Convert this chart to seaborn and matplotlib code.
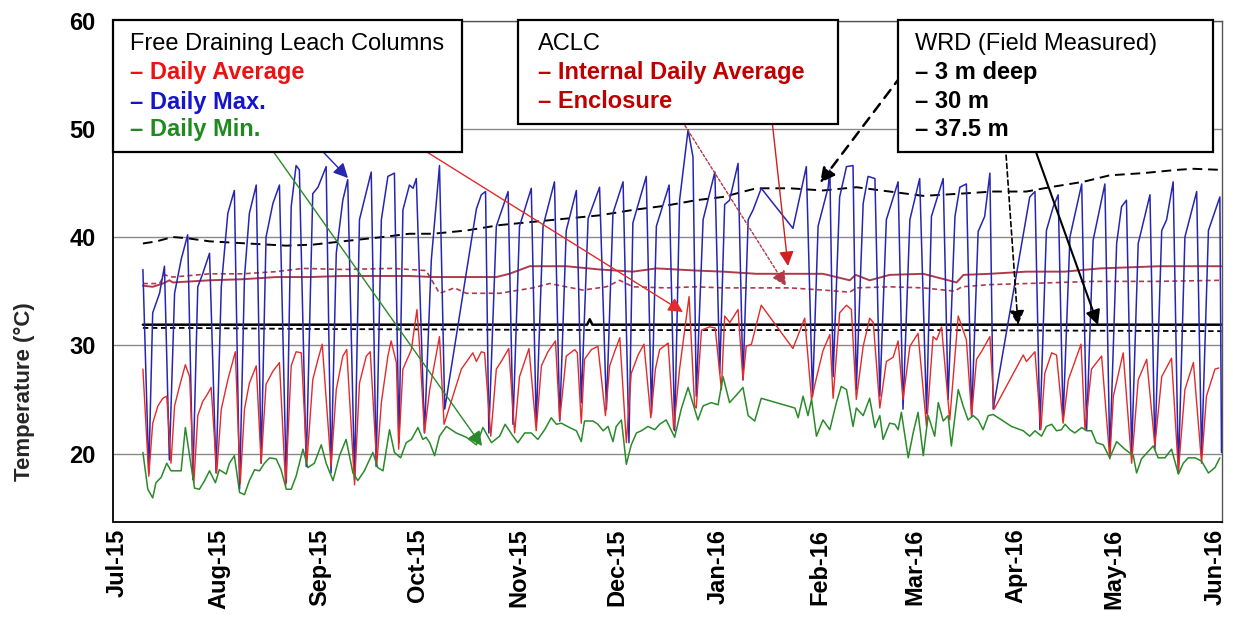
import numpy as np
import pandas as pd
import matplotlib
matplotlib.use('Agg')
import matplotlib.pyplot as plt
from matplotlib.patches import Rectangle
import seaborn as sns

START = '2015-07-01'

# Free draining leach columns - daily max (day offset from START, degC)
max_day = [7.8, 9.6, 10.8, 12.9, 14.4, 15.9, 17.5, 19.5, 21.5, 23.1, 24.6, 26.1, 28.2, 30.2, 31.8, 33.8, 35.8, 37.4,
           38.9, 40.4, 42.5, 44.0, 45.5, 47.6, 49.6, 51.7, 53.2, 54.7, 55.7, 57.8, 59.8, 61.4, 63.9, 65.4, 67.0, 69.0,
           70.5, 72.6, 74.1, 77.7, 79.2, 80.8, 82.8, 84.8, 86.2, 87.4, 89.4, 90.5, 91.5, 94.0, 96.1, 98.6, 100.2,
           109.9, 111.4, 112.7, 113.7, 116.0, 119.6, 121.1, 123.1, 126.7, 128.2, 130.3, 133.8, 135.4, 137.4, 140.5,
           142.0, 144.1, 147.6, 149.7, 151.7, 154.8, 156.6, 157.8, 161.9, 163.5, 165.0, 168.9, 170.6, 172.1, 174.7,
           176.2, 177.2, 179.3, 182.9, 184.4, 185.9, 187.4, 190.0, 191.5, 193.1, 194.6, 197.1, 206.8, 210.9, 212.8,
           214.5, 217.6, 218.1, 219.1, 221.1, 223.2, 225.2, 226.2, 228.3, 229.8, 231.9, 233.4, 235.4, 239.0, 240.5,
           242.6, 245.6, 247.7, 249.2, 252.8, 254.3, 256.4, 257.9, 259.9, 261.5, 263.5, 265.5, 267.1, 268.1, 279.3,
           280.9, 282.4, 284.4, 286.5, 288.0, 289.5, 291.6, 295.2, 296.7, 298.7, 302.3, 303.8, 305.9, 307.4, 308.9,
           310.5, 312.5, 316.1, 317.6, 319.7, 321.2, 323.2, 324.8, 326.8, 330.4, 331.9, 334.0, 337.5, 338.0]
max_val = [37.0, 18.2, 33.0, 34.8, 37.3, 19.4, 34.8, 37.9, 40.2, 17.6, 35.4, 36.6, 38.5, 18.2, 35.4, 42.2, 44.3, 16.7,
           36.3, 42.2, 44.8, 19.1, 40.0, 43.1, 44.8, 17.3, 42.8, 46.6, 46.2, 18.8, 44.0, 44.6, 46.5, 18.2, 38.5, 43.4,
           45.3, 17.6, 41.6, 46.0, 18.8, 41.6, 45.6, 45.9, 21.0, 42.5, 44.8, 44.5, 45.4, 21.9, 37.9, 46.6, 24.1,
           42.6, 43.9, 44.2, 21.9, 41.0, 44.2, 22.7, 41.0, 44.5, 22.7, 41.0, 45.1, 23.0, 40.6, 44.3,
           24.7, 41.7, 44.6, 24.1, 42.2, 45.1, 21.0, 41.3, 45.6, 23.7, 41.0, 44.8, 22.1, 43.4, 49.9,
           47.4, 25.3, 41.6, 46.0, 27.4, 43.0, 43.4, 46.8, 26.8, 41.6, 42.5, 44.5, 40.8, 46.5, 25.3,
           41.0, 44.6, 46.2, 27.1, 43.7, 46.5, 46.6, 25.9, 43.1, 45.6, 45.4, 25.3, 41.6, 45.1, 24.1,
           41.6, 45.4, 23.7, 41.9, 45.4, 25.0, 41.9, 44.6, 44.9, 23.4, 40.5, 41.9, 45.9, 24.1, 43.7,
           44.2, 22.2, 40.6, 42.8, 43.9, 23.1, 40.0, 44.9, 22.2, 39.7, 44.9, 19.8, 39.4, 42.8, 43.4,
           20.1, 39.4, 43.9, 20.4, 40.6, 41.6, 45.1, 18.2, 40.0, 44.2, 19.8, 40.6, 43.7, 20.1]

# Free draining leach columns - daily average
avg_day = [7.8, 9.6, 10.8, 12.4, 13.9, 15.1, 16.4, 17.5, 19.0, 20.8, 22.1, 23.4, 24.6, 26.1, 27.2, 28.7, 30.4, 31.8,
           33.8, 36.1, 37.6, 38.9, 40.4, 42.5, 44.0, 45.5, 47.6, 49.6, 51.5, 53.2, 54.7, 56.3, 58.0, 59.8, 61.4, 62.7,
           65.4, 67.0, 69.0, 70.2, 72.6, 74.1, 76.2, 77.4, 79.4, 80.8, 82.8, 83.8, 85.4, 86.1, 87.4, 90.0, 91.7, 92.5,
           94.0, 95.6, 98.6, 100.0, 105.3, 108.8, 109.9, 111.4, 112.4, 114.3, 116.0, 117.5, 119.8, 121.6, 123.1,
           126.0, 128.2, 129.8, 131.8, 134.1, 135.4, 137.4, 140.0, 140.8, 142.0, 143.0, 145.1, 147.1, 149.4, 150.7,
           152.2, 153.8, 155.8, 157.3, 159.4, 161.2, 163.3, 164.7, 166.0, 168.6, 170.3, 172.1, 175.0, 176.7, 177.2,
           178.8, 181.3, 183.0, 184.9, 185.9, 187.5, 190.0, 191.5, 192.5, 194.1, 197.1, 206.8, 210.4, 212.5, 214.0,
           216.0, 218.1, 219.1, 221.1, 223.2, 224.7, 226.2, 228.3, 230.3, 231.4, 233.4, 235.4, 237.5, 239.0, 240.5,
           242.6, 245.1, 247.7, 249.7, 250.8, 252.3, 254.8, 257.4, 259.9, 261.5, 263.0, 264.5, 267.1, 268.4, 277.3,
           278.3, 280.9, 282.7, 283.9, 286.0, 287.5, 289.5, 291.1, 295.0, 296.2, 298.2, 301.3, 303.8, 304.9, 307.9,
           310.5, 312.5, 315.1, 317.6, 319.7, 322.7, 324.8, 326.8, 329.4, 331.9, 333.4, 336.0, 337.2]
avg_val = [27.8, 17.9, 22.8, 24.4, 25.1, 25.3, 19.1, 24.4, 26.2, 28.2, 27.1, 17.3, 23.5, 24.8, 25.3, 26.1, 18.2, 24.1,
           26.8, 29.4, 17.2, 24.1, 26.5, 28.1, 19.1, 26.4, 27.6, 28.4, 17.0, 28.1, 29.4, 29.3, 19.1, 26.8, 28.7, 30.1,
           18.8, 25.9, 29.0, 29.6, 17.1, 26.5, 29.0, 29.4, 19.0, 24.7, 29.0, 30.4, 28.4, 20.4, 27.8, 29.6, 33.3, 29.9,
           21.9, 25.9, 30.8, 22.7, 27.8, 29.3, 28.5, 29.4, 29.3, 21.6, 27.8, 28.5, 29.7, 21.9, 27.1,
           29.7, 22.1, 28.1, 29.4, 30.4, 23.1, 29.0, 29.6, 29.3, 22.8, 28.7, 29.6, 29.9, 23.5, 28.1,
           29.4, 30.7, 21.0, 27.4, 29.1, 30.1, 23.3, 27.8, 29.6, 30.2, 22.2, 27.8, 34.5, 24.4, 24.2,
           31.4, 31.7, 31.6, 25.9, 32.7, 32.1, 33.3, 26.8, 29.9, 30.1, 33.7, 29.7, 32.5, 25.0, 27.0,
           29.5, 31.0, 25.1, 33.0, 33.7, 33.3, 25.0, 29.9, 32.5, 32.1, 24.2, 28.5, 28.9, 30.4, 25.0,
           29.9, 31.1, 22.5, 30.8, 30.5, 31.7, 23.1, 32.7, 30.5, 23.5, 28.7, 29.4, 30.8, 24.1, 29.1,
           28.5, 29.4, 22.2, 27.4, 29.3, 29.1, 22.8, 26.8, 30.1, 22.2, 27.8, 29.0, 19.5, 25.3, 29.3,
           19.1, 26.8, 28.7, 20.7, 27.1, 28.8, 18.4, 25.9, 28.4, 19.1, 25.3, 27.8, 27.9]

# Free draining leach columns - daily min
min_day = [7.8, 9.3, 10.8, 11.8, 13.4, 15.1, 16.4, 18.0, 19.5, 20.8, 22.1, 23.6, 25.1, 26.7, 28.2, 30.0, 31.2, 33.3,
           34.3, 35.8, 37.4, 38.9, 40.4, 42.0, 43.5, 45.0, 46.6, 48.6, 50.1, 51.7, 53.2, 54.7, 56.8, 58.3, 60.3, 62.4,
           63.9, 66.0, 68.0, 70.0, 72.1, 73.6, 75.6, 78.2, 79.7, 81.3, 83.3, 84.8, 86.7, 88.4, 90.0, 92.0, 93.5, 94.5,
           95.6, 97.1, 98.6, 100.7, 103.7, 106.8, 109.9, 111.9, 114.5, 117.0, 118.7, 121.1, 122.6, 124.7, 126.7,
           128.7, 130.8, 132.8, 134.4, 135.9, 138.4, 140.5, 142.0, 143.0, 145.6, 147.1, 148.7, 150.2, 151.7, 152.7,
           154.3, 155.8, 157.3, 158.9, 160.4, 162.4, 164.5, 166.0, 168.0, 170.6, 172.6, 174.7, 176.7, 177.7, 179.3,
           181.8, 183.9, 185.4, 187.4, 189.5, 191.5, 193.1, 195.1, 197.1, 207.4, 208.4, 209.9, 211.4, 212.5, 214.0,
           216.0, 218.1, 220.1, 221.6, 223.2, 225.2, 226.2, 228.3, 230.3, 231.9, 233.4, 234.4, 236.4, 238.0, 239.0,
           240.0, 242.1, 243.6, 245.1, 246.7, 248.2, 250.2, 251.3, 252.8, 254.3, 255.3, 257.4, 258.9, 260.4, 262.0,
           263.5, 265.0, 266.6, 268.1, 270.7, 273.7, 277.3, 279.3, 280.9, 282.9, 284.4, 286.0, 287.5, 289.0, 290.1,
           291.6, 293.1, 295.2, 296.7, 298.2, 299.7, 301.8, 303.8, 305.9, 308.4, 311.0, 312.0, 313.5, 315.6, 317.1,
           318.6, 320.7, 322.7, 324.8, 326.3, 327.8, 329.9, 331.9, 334.0, 336.0, 337.5]
min_val = [20.1, 16.7, 15.9, 17.3, 17.8, 19.1, 18.4, 18.4, 18.4, 22.4, 19.8, 16.8, 16.7, 17.5, 18.4, 17.3, 18.5, 18.1,
           19.1, 19.8, 16.4, 16.2, 17.5, 18.5, 18.4, 19.1, 19.6, 19.5, 18.5, 16.7, 16.7, 17.9, 20.4, 18.7, 19.1, 20.8,
           19.1, 17.5, 19.8, 21.3, 18.2, 17.5, 18.4, 20.1, 18.7, 18.4, 22.2, 20.1, 19.6, 21.0, 21.3, 22.4, 21.3, 21.5,
           21.0, 19.8, 21.6, 22.5, 21.9, 21.5, 20.8, 22.4, 21.0, 21.6, 22.7, 21.6, 21.0, 21.9, 21.9,
           21.3, 22.2, 23.3, 22.7, 22.8, 22.4, 22.1, 21.1, 23.0, 23.0, 22.7, 22.1, 22.5, 21.1, 22.5,
           23.1, 19.0, 20.8, 21.9, 22.1, 22.5, 22.2, 22.7, 23.1, 21.5, 24.1, 26.1, 24.1, 23.1, 24.4,
           24.7, 24.5, 27.1, 24.7, 25.4, 26.1, 23.5, 23.0, 25.1, 24.2, 23.3, 25.3, 23.5, 25.0, 21.6,
           23.1, 22.2, 24.7, 26.2, 25.9, 22.5, 24.2, 23.5, 25.1, 22.4, 23.5, 21.3, 22.8, 22.7, 22.2,
           23.8, 19.6, 21.9, 23.8, 19.8, 23.5, 21.6, 24.7, 23.0, 23.5, 20.7, 25.9, 24.4, 23.1, 23.5,
           23.1, 22.2, 23.5, 23.6, 23.1, 22.5, 22.1, 21.6, 22.1, 21.6, 22.5, 22.7, 22.1, 22.2, 22.7,
           22.2, 21.9, 22.4, 22.1, 22.1, 21.0, 20.8, 19.6, 21.1, 20.4, 19.8, 18.2, 19.5, 20.2, 20.7,
           19.6, 19.6, 20.4, 18.1, 19.1, 19.6, 19.6, 19.3, 18.2, 18.7, 19.6]

# ACLC - internal daily average
int_day = [7.8, 10.8, 13.9, 15.9, 17.0, 28.2, 38.4, 48.6, 58.8, 69.0, 79.2, 89.4, 96.6, 105.0, 116.0, 120.0, 126.2,
           137.4, 147.6, 157.8, 165.0, 177.2, 185.4, 195.6, 205.8, 216.0, 224.2, 226.0, 230.3, 236.4, 246.7, 256.9,
           259.0, 267.1, 278.3, 290.0, 300.8, 319.1, 338.0]
int_val = [35.5, 35.4, 35.7, 36.0, 35.8, 36.0, 36.1, 36.3, 36.3, 36.4, 36.4, 36.4, 36.3, 36.3, 36.3, 36.6, 37.3,
           37.3, 37.0, 36.8, 37.1, 36.9, 36.8, 36.6, 36.6, 36.6, 36.0, 36.5, 36.0, 36.5, 36.6, 35.8,
           36.5, 36.6, 36.8, 36.8, 37.1, 37.3, 37.3]

# ACLC - enclosure
enc_day = [7.8, 12.9, 14.4, 17.0, 28.2, 38.4, 48.6, 56.8, 69.0, 84.3, 94.5, 98.6, 103.2, 106.8, 117.0, 127.2, 132.3,
           137.4, 142.5, 149.7, 153.8, 157.8, 168.0, 177.2, 185.4, 195.6, 205.8, 216.0, 224.2, 226.2, 236.4, 246.7,
           256.3, 258.5, 267.1, 278.3, 298.7, 318.0, 338.0]
enc_val = [35.7, 35.7, 36.5, 36.3, 36.6, 36.6, 36.8, 37.1, 37.0, 37.1, 36.9, 34.8, 35.3, 34.8, 34.8, 35.3, 35.7,
           35.4, 35.1, 35.4, 36.0, 35.4, 35.3, 35.4, 35.3, 35.3, 35.3, 35.1, 34.9, 35.3, 35.4, 35.3,
           35.0, 35.4, 35.6, 35.7, 35.9, 35.9, 36.0]

# WRD field measured
wrd3_day = [7.8, 12.0, 16.9, 21.0, 28.2, 40.0, 51.7, 60.0, 69.0, 81.3, 89.4, 96.6, 106.8, 117.0, 127.2, 137.4, 147.6,
            157.8, 168.0, 177.2, 185.4, 195.6, 205.8, 216.0, 226.2, 236.4, 246.7, 257.9, 268.1, 278.3, 285.5, 295.7,
            303.8, 314.0, 324.3, 329.4, 338.0]
wrd3_val = [39.4, 39.6, 40.0, 39.9, 39.6, 39.4, 39.2, 39.3, 39.6, 40.0, 40.3, 40.3, 40.6, 41.1, 41.4, 41.7, 42.0,
            42.5, 42.9, 43.4, 43.7, 44.5, 44.5, 44.3, 44.6, 44.2, 43.8, 44.0, 44.2, 44.2, 44.6, 45.1,
            45.7, 45.9, 46.2, 46.3, 46.2]
wrd30_day = [7.8, 20.0, 60.0, 150.0, 250.0, 338.0]
wrd30_val = [31.6, 31.6, 31.5, 31.4, 31.4, 31.3]
wrd375_day = [7.8, 143.8, 144.6, 145.4, 338.0]
wrd375_val = [31.9, 31.9, 32.4, 31.9, 31.9]

y_ticks = [20, 30, 40, 50, 60]
x_ticks = pd.date_range('2015-07-01', '2016-06-01', freq='MS')
x_labels = [t.strftime('%b-%y') for t in x_ticks]

sns.set_theme(style='white')
plt.rcParams['font.family'] = ['Liberation Sans', 'DejaVu Sans']

W, H = 1233, 617
fig = plt.figure(figsize=(W / 100, H / 100), dpi=100)
L, R, T, B = 113.5, 1221.5, 20.5, 521.7
ax = fig.add_axes([L / W, 1 - B / H, (R - L) / W, (B - T) / H])

base = pd.Timestamp(START)


def frame(days, vals):
    return pd.DataFrame({'date': base + pd.to_timedelta(days, unit='D'), 'val': vals})


def draw(days, vals, color, lw, dashes=None, z=2):
    n0 = len(ax.lines)
    sns.lineplot(data=frame(days, vals), x='date', y='val', ax=ax, color=color, lw=lw,
                 estimator=None, sort=False, legend=False, zorder=z)
    if dashes is not None:
        ax.lines[n0].set_dashes(dashes)


BLUE = '#2626B0'
RED = '#E42A2A'
GREEN = '#2A8A2A'
DRED = '#B23A48'

draw(wrd3_day, wrd3_val, 'black', 1.4, dashes=(5, 3))
draw(wrd375_day, wrd375_val, 'black', 1.8)
draw(wrd30_day, wrd30_val, 'black', 1.3, dashes=(3, 2))
draw(int_day, int_val, DRED, 1.4)
draw(enc_day, enc_val, DRED, 1.2, dashes=(3, 2))
draw(max_day, max_val, BLUE, 1.1, z=3)
draw(avg_day, avg_val, RED, 1.0, z=3)
draw(min_day, min_val, GREEN, 1.1, z=3)

ax.set_xlim(base - pd.Timedelta(days=1.2), base + pd.Timedelta(days=338))
ax.set_ylim(13.7, 60)
ax.set_yticks(y_ticks)
ax.set_yticklabels([str(v) for v in y_ticks], fontsize=17, fontweight='bold')
ax.set_xticks(x_ticks)
ax.set_xticklabels(x_labels, rotation=90, fontsize=17, fontweight='bold')
ax.tick_params(axis='both', length=0, colors='black')
ax.tick_params(axis='y', pad=13)
ax.tick_params(axis='x', pad=5)
ax.set_xlabel('')
ax.set_ylabel('Temperature (°C)', fontsize=16, fontweight='bold')
ax.yaxis.set_label_coords((35 - L) / (R - L), (B - 392) / (B - T))
ax.yaxis.grid(True, color='#8a8a8a', lw=1.0)
ax.xaxis.grid(False)
for s in ['left', 'bottom']:
    ax.spines[s].set_color('black')
    ax.spines[s].set_linewidth(1.3)
for s in ['top', 'right']:
    ax.spines[s].set_color('#555555')
    ax.spines[s].set_linewidth(1.0)


def ff(px, py):
    return (px / W, 1 - py / H)


# legend boxes
for (x0, y0, x1, y1) in [(113, 20, 462, 152), (518, 20, 838, 124), (898, 20, 1213, 152)]:
    a, b = ff(x0, y1)
    rect = Rectangle((a, b), (x1 - x0) / W, (y1 - y0) / H, transform=fig.transFigure,
                     facecolor='white', edgecolor='black', lw=1.6, zorder=5)
    fig.patches.append(rect)

texts = [
    (130, 44, 'Free Draining Leach Columns', 'black', 'normal'),
    (130, 73, '– Daily Average', '#EE1111', 'bold'),
    (130, 102, '– Daily Max.', '#1515CC', 'bold'),
    (130, 130, '– Daily Min.', '#208A20', 'bold'),
    (538, 44, 'ACLC', 'black', 'normal'),
    (538, 73, '– Internal Daily Average', '#C00000', 'bold'),
    (538, 101, '– Enclosure', '#C00000', 'bold'),
    (915, 44, 'WRD (Field Measured)', 'black', 'normal'),
    (915, 73, '– 3 m deep', 'black', 'bold'),
    (915, 101, '– 30 m', 'black', 'bold'),
    (915, 129, '– 37.5 m', 'black', 'bold'),
]
for px, py, s, c, w in texts:
    x, y = ff(px, py)
    fig.text(x, y, s, ha='left', va='center', fontsize=17, color=c, fontweight=w, zorder=6)

arrows = [
    ((318, 84), (683, 312), RED, '-', 1.0),
    ((286, 113), (348, 178), BLUE, '-', 1.0),
    ((263, 137), (482, 446), GREEN, '-', 1.0),
    ((672, 105), (786, 286), DRED, (0, (2, 1.5)), 1.0),
    ((771, 111), (788, 266), '#D02020', '-', 1.0),
    ((901, 76), (820, 183), 'black', (0, (4, 3)), 1.8),
    ((1002, 97), (1018, 325), 'black', (0, (3, 2)), 1.2),
    ((1027, 127), (1098, 325), 'black', '-', 1.5),
]
for tail, head, c, ls, lw in arrows:
    ann = ax.annotate('', xy=ff(*head), xycoords='figure fraction', xytext=ff(*tail),
                      textcoords='figure fraction',
                      arrowprops=dict(arrowstyle='-|>', color=c, lw=lw, linestyle=ls,
                                      mutation_scale=22, shrinkA=0, shrinkB=0),
                      zorder=7, annotation_clip=False)

fig.savefig('out.png', dpi=100)
